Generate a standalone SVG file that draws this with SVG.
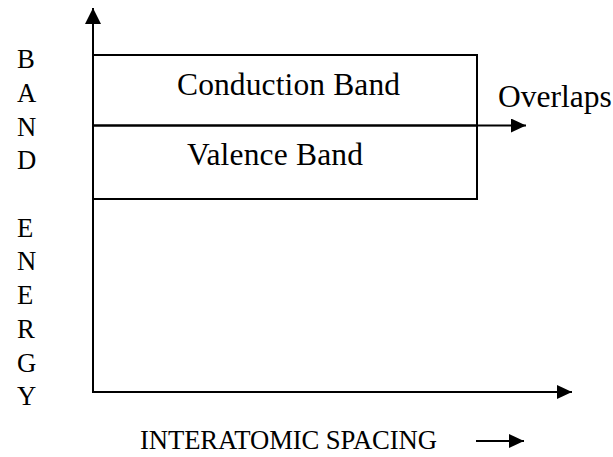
<svg xmlns="http://www.w3.org/2000/svg" width="613" height="457" viewBox="0 0 613 457">
<style>
text{font-family:"Liberation Serif","Times New Roman",serif;fill:#000}
.ln{stroke:#000;stroke-width:2;fill:none}
.lbl{font-size:26.7px}
.big{font-size:31.5px}
</style>
<defs>
<marker id="ah" markerWidth="16" markerHeight="16" viewBox="0 0 16 16" refX="16" refY="8" orient="auto" markerUnits="userSpaceOnUse">
<path d="M0,0 L16,8 L0,16 Z" fill="#000"/>
</marker>
<marker id="ah2" markerWidth="15" markerHeight="14" viewBox="0 0 15 14" refX="15" refY="7" orient="auto" markerUnits="userSpaceOnUse">
<path d="M0,0 L15,7 L0,14 Z" fill="#000"/>
</marker>
</defs>
<g id="connectors">
<line class="ln" x1="93" y1="392" x2="93" y2="8" marker-end="url(#ah)"/>
<line class="ln" x1="92" y1="392" x2="572" y2="392" marker-end="url(#ah2)"/>
<line class="ln" x1="477" y1="125.5" x2="526" y2="125.5" marker-end="url(#ah2)"/>
<line class="ln" x1="476" y1="441" x2="524" y2="441" marker-end="url(#ah2)"/>
</g>
<g id="conduction-band">
<rect class="ln" x="93" y="55" width="384" height="70.5"/>
<text class="big" x="177" y="95" textLength="223">Conduction Band</text>
</g>
<g id="valence-band">
<rect class="ln" x="93" y="125.5" width="384" height="73.5"/>
<text class="big" x="187" y="165" textLength="176">Valence Band</text>
</g>
<g id="overlaps">
<text class="big" x="498" y="107">Overlaps</text>
</g>
<g id="y-label" class="lbl">
<text x="17" y="68">B</text>
<text x="17" y="102">A</text>
<text x="17" y="135.5">N</text>
<text x="17" y="169">D</text>
<text x="17" y="236.5">E</text>
<text x="17" y="270">N</text>
<text x="17" y="304">E</text>
<text x="17" y="338">R</text>
<text x="17" y="371.5">G</text>
<text x="17" y="405">Y</text>
</g>
<g id="x-label">
<text class="lbl" x="140" y="449" textLength="297">INTERATOMIC SPACING</text>
</g>
</svg>
